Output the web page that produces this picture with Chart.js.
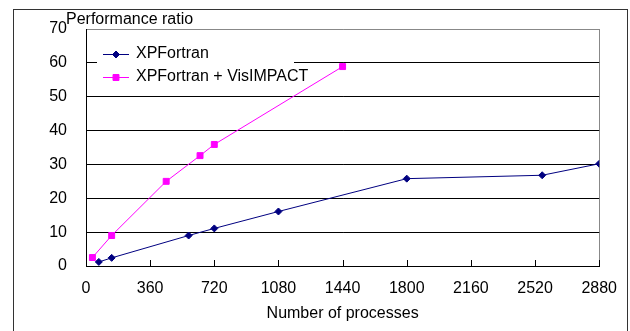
<!DOCTYPE html>
<html>
<head>
<meta charset="utf-8">
<script src="https://cdn.jsdelivr.net/npm/chart.js@4/dist/chart.umd.min.js"></script>
<style>
  html, body { margin: 0; padding: 0; background: #fff; }
  #wrap { width: 630px; height: 331px; position: relative; }
</style>
</head>
<body>
<div id="wrap"><canvas id="perfChart"></canvas></div>
<script>
// data
const xpfProcs = [72, 144, 576, 720, 1080, 1800, 2560, 2880];
const xpfRatio = [1.2, 2.4, 9.0, 11.1, 16.1, 25.8, 26.8, 30.2];
const visProcs = [36, 144, 450, 640, 720, 1440];
const visRatio = [2.5, 9.0, 25.0, 32.6, 35.9, 58.9];
const xTicks = [0, 360, 720, 1080, 1440, 1800, 2160, 2520, 2880];
const seriesNames = ["XPFortran", "XPFortran + VisIMPACT"];

const FONT = "Liberation Sans, Arial, sans-serif";

function toPoints(xs, ys) {
    return xs.map(function (x, i) { return { x: x, y: ys[i] }; });
}

// frame, y title, inward x ticks, legend box
const decor = {
    id: "decor",
    beforeDraw: function (chart) {
        const ctx = chart.ctx;
        ctx.save();
        ctx.strokeStyle = "#333";
        ctx.lineWidth = 1;
        ctx.strokeRect(13.5, 9.5, 614, 400);
        ctx.restore();
    },
    afterDraw: function (chart) {
        const ctx = chart.ctx;
        const area = chart.chartArea;
        const xs = chart.scales.x;
        ctx.save();
        // y axis title
        ctx.fillStyle = "#000";
        ctx.font = "16px " + FONT;
        ctx.textBaseline = "middle";
        ctx.textAlign = "left";
        ctx.fillText("Performance ratio", 66, 20);

        // tick marks pointing up into the plot
        ctx.strokeStyle = "#000";
        ctx.lineWidth = 1;
        xTicks.forEach(function (v) {
            const px = Math.round(xs.getPixelForValue(v)) + 0.5;
            ctx.beginPath();
            ctx.moveTo(px, area.bottom);
            ctx.lineTo(px, area.bottom - 6);
            ctx.stroke();
        });

        // legend
        ctx.fillStyle = "#fff";
        ctx.fillRect(97, 36, 197, 54);
        const rows = [54, 77];
        chart.data.datasets.forEach(function (ds, i) {
            const y = rows[i];
            ctx.strokeStyle = ds.borderColor;
            ctx.lineWidth = 1;
            ctx.beginPath();
            ctx.moveTo(103, y + 0.5);
            ctx.lineTo(129, y + 0.5);
            ctx.stroke();
            ctx.fillStyle = ds.pointBackgroundColor;
            ctx.strokeStyle = ds.borderColor;
            Chart.helpers.drawPoint(ctx, {
                pointStyle: ds.pointStyle,
                radius: ds.pointRadius,
                rotation: 0,
                borderWidth: 1
            }, 116, y + 0.5);
            ctx.fillStyle = "#000";
            ctx.font = "16px " + FONT;
            ctx.textAlign = "left";
            ctx.textBaseline = "middle";
            ctx.fillText(ds.label, 136, y);
        });
        ctx.restore();
    }
};

new Chart(document.getElementById("perfChart"), {
    type: "line",
    data: {
        datasets: [{
            label: seriesNames[0],
            data: toPoints(xpfProcs, xpfRatio),
            borderColor: "#000080",
            backgroundColor: "#000080",
            pointBackgroundColor: "#000080",
            borderWidth: 1,
            pointStyle: "rectRot",
            pointRadius: 3.5,
            pointBorderWidth: 1,
            tension: 0
        }, {
            label: seriesNames[1],
            data: toPoints(visProcs, visRatio),
            borderColor: "#FF00FF",
            backgroundColor: "#FF00FF",
            pointBackgroundColor: "#FF00FF",
            borderWidth: 1,
            pointStyle: "rect",
            pointRadius: 4.2,
            pointBorderWidth: 1,
            tension: 0
        }]
    },
    options: {
        responsive: true,
        maintainAspectRatio: false,
        animation: false,
        events: [],
        layout: { padding: { left: 0, top: 29, right: 29, bottom: 8 } },
        plugins: {
            legend: { display: false },
            title: { display: false },
            tooltip: { enabled: false }
        },
        scales: {
            x: {
                type: "linear",
                min: 0,
                max: 2880,
                afterBuildTicks: function (scale) {
                    scale.ticks = xTicks.map(function (v) { return { value: v }; });
                },
                afterFit: function (scale) { scale.height = 57; },
                grid: {
                    drawTicks: false,
                    color: function (c) {
                        return c.tick && c.tick.value === 2880 ? "#888" : "rgba(0,0,0,0)";
                    }
                },
                border: { display: true, color: "#000", width: 1 },
                ticks: {
                    padding: 13,
                    maxRotation: 0,
                    autoSkip: false,
                    color: "#000",
                    font: { family: FONT, size: 16 },
                    callback: function (v) { return String(v); }
                },
                title: {
                    display: true,
                    text: "Number of processes",
                    color: "#000",
                    padding: { top: 4, bottom: 0 },
                    font: { family: FONT, size: 16 }
                }
            },
            y: {
                min: 0,
                max: 70,
                afterFit: function (scale) { scale.width = 86; },
                grid: {
                    drawTicks: false,
                    color: function (c) {
                        return c.tick && c.tick.value === 70 ? "#888" : "#000";
                    }
                },
                border: { display: true, color: "#000", width: 1 },
                ticks: {
                    stepSize: 10,
                    padding: 19,
                    color: "#000",
                    font: { family: FONT, size: 16 },
                    callback: function (v) { return String(v); }
                }
            }
        }
    },
    plugins: [decor]
});
</script>
</body>
</html>
